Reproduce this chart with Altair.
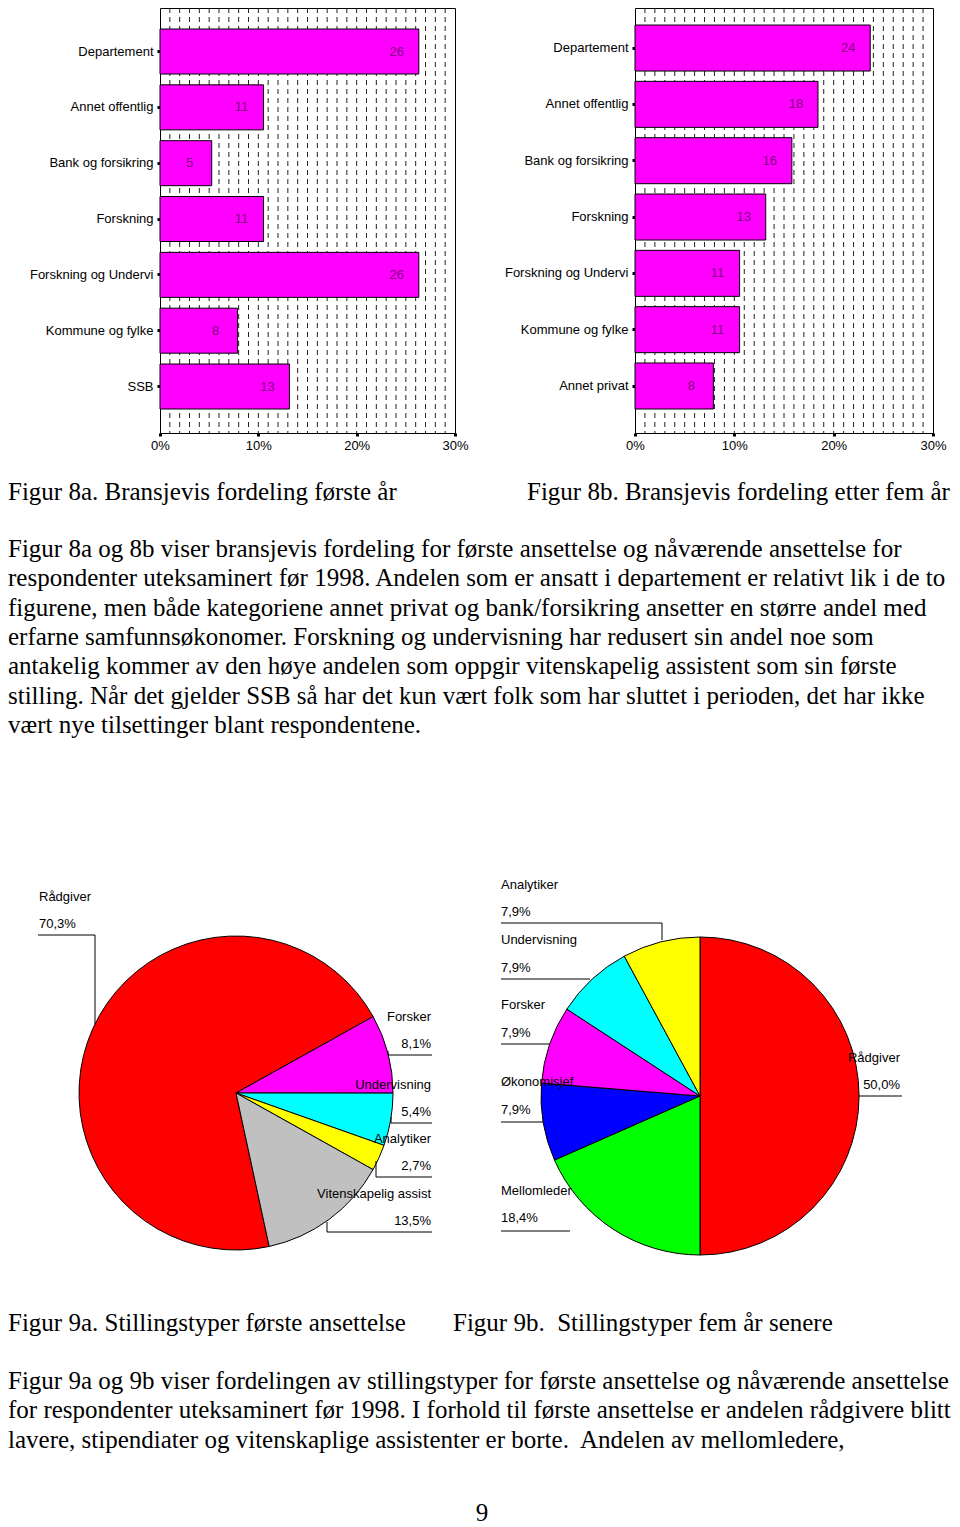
import math
import altair as alt
import pandas as pd

# ---------------- data ----------------
cats_8a = ["Departement", "Annet offentlig", "Bank og forsikring", "Forskning",
           "Forskning og Undervi", "Kommune og fylke", "SSB"]
vals_8a = [26.32, 10.53, 5.26, 10.53, 26.32, 7.89, 13.16]

cats_8b = ["Departement", "Annet offentlig", "Bank og forsikring", "Forskning",
           "Forskning og Undervi", "Kommune og fylke", "Annet privat"]
vals_8b = [23.68, 18.42, 15.79, 13.16, 10.53, 10.53, 7.89]

x_tick_values = [0, 10, 20, 30]
grid_values = list(range(1, 30))

cats_9a = ["Rådgiver", "Forsker", "Undervisning", "Analytiker", "Vitenskapelig assist"]
vals_9a = [70.3, 8.1, 5.4, 2.7, 13.5]

cats_9b = ["Rådgiver", "Mellomleder", "Økonomisjef", "Forsker", "Undervisning", "Analytiker"]
vals_9b = [50.0, 18.4, 7.9, 7.9, 7.9, 7.9]

caption_8a = "Figur 8a. Bransjevis fordeling første år"
caption_8b = "Figur 8b. Bransjevis fordeling etter fem år"
paragraph_1 = [
    "Figur 8a og 8b viser bransjevis fordeling for første ansettelse og nåværende ansettelse for",
    "respondenter uteksaminert før 1998. Andelen som er ansatt i departement er relativt lik i de to",
    "figurene, men både kategoriene annet privat og bank/forsikring ansetter en større andel med",
    "erfarne samfunnsøkonomer. Forskning og undervisning har redusert sin andel noe som",
    "antakelig kommer av den høye andelen som oppgir vitenskapelig assistent som sin første",
    "stilling. Når det gjelder SSB så har det kun vært folk som har sluttet i perioden, det har ikke",
    "vært nye tilsettinger blant respondentene.",
]
caption_9a = "Figur 9a. Stillingstyper første ansettelse"
caption_9b = "Figur 9b.\u00a0 Stillingstyper fem år senere"
paragraph_2 = [
    "Figur 9a og 9b viser fordelingen av stillingstyper for første ansettelse og nåværende ansettelse",
    "for respondenter uteksaminert før 1998. I forhold til første ansettelse er andelen rådgivere blitt",
    "lavere, stipendiater og vitenskaplige assistenter er borte.\u00a0 Andelen av mellomledere,",
]
page_number = "9"

# ---------------- styles ----------------
colors_9a = ["#FF0000", "#FF00FF", "#00FFFF", "#FFFF00", "#C0C0C0"]
colors_9b = ["#FF0000", "#00FF00", "#0000FF", "#FF00FF", "#00FFFF", "#FFFF00"]
BAR_FILL = "#FF00FF"
BAR_LABEL = "#800080"
SANS = "Liberation Sans"
SERIF = "Liberation Serif"
BODY_SIZE = 25.0

# ---------------- layout (page pixels) ----------------
M = 8            # page margin
W, H = 944, 1519

# bar panels: plot box (x0, x1, y0, y1) and band paddings
panel_8a = dict(x0=160, x1=455, y0=8, y1=433, pi=0.194, po=0.403, align=0.467)
panel_8b = dict(x0=635, x1=933, y0=8, y1=433, pi=0.183, po=0.364, align=0.415)

# pies: centre, radius, start angle (degrees clockwise from 12 o'clock)
pie_9a = dict(cx=236, cy=1093, r=157, start=167.8)
pie_9b = dict(cx=700, cy=1096, r=159, start=0.0)

# label placement: align, x, y(name), y(percent)
labels_9a = {
    "Rådgiver": ("left", 39, 897, 924),
    "Forsker": ("right", 431, 1017, 1044),
    "Undervisning": ("right", 431, 1085, 1112),
    "Analytiker": ("right", 431, 1139, 1166),
    "Vitenskapelig assist": ("right", 431, 1194, 1221),
}
labels_9b = {
    "Rådgiver": ("right", 900, 1058, 1085),
    "Mellomleder": ("left", 501, 1191, 1218),
    "Økonomisjef": ("left", 501, 1082, 1110),
    "Forsker": ("left", 501, 1005, 1033),
    "Undervisning": ("left", 501, 940, 968),
    "Analytiker": ("left", 501, 885, 912),
}
# leader lines (x1, y1, x2, y2)
leaders = [
    (38, 935, 95, 935), (95, 935, 95, 1024),
    (388, 1055, 432, 1055), (388, 1055, 388, 1051),
    (391, 1123, 432, 1123), (391, 1123, 391, 1117),
    (376, 1177, 432, 1177), (376, 1177, 376, 1161),
    (327, 1232, 432, 1232), (327, 1232, 327, 1222),
    (501, 923, 662, 923), (662, 923, 662, 940),
    (501, 979, 590, 979),
    (501, 1044, 550, 1044),
    (501, 1122, 543, 1122),
    (501, 1231, 570, 1231),
    (859, 1096, 902, 1096),
]

# text baselines
caption1_y = 500
para1_y0, line_step = 557, 29.3
caption2_y = 1331
para2_y0 = 1389
page_no_y = 1521


def bar_panel(cats, vals, p):
    df = pd.DataFrame({"cat": cats, "val": vals})
    xr = [p["x0"] - M, p["x1"] - M]
    yr = [p["y0"] - M, p["y1"] - M]
    xs = alt.Scale(domain=[0, 30], range=xr, nice=False, zero=True)
    ys = alt.Scale(type="band", domain=cats, range=yr, paddingInner=p["pi"],
                   paddingOuter=p["po"], align=p["align"])
    grid = alt.Chart(pd.DataFrame({"g": grid_values})).mark_rule(
        color="#222222", strokeWidth=1, strokeDash=[5, 4]
    ).encode(
        x=alt.X("g:Q", scale=xs,
                axis=alt.Axis(orient="top", offset=-yr[0], labels=False, ticks=False,
                              domain=True, title=None, grid=False)),
        y=alt.Y(datum=0, scale=alt.Scale(domain=[0, 1], range=yr),
                axis=alt.Axis(orient="right", offset=xr[1] - W, labels=False,
                              ticks=False, domain=True, title=None, grid=False)),
        y2=alt.Y2(datum=1),
    )
    bars = alt.Chart(df).mark_bar(fill=BAR_FILL, stroke="black", strokeWidth=1).encode(
        x=alt.X("val:Q", scale=xs,
                axis=alt.Axis(orient="bottom", offset=yr[1] - H, values=x_tick_values,
                              labelExpr="datum.value + '%'", tickSize=3, tickWidth=3,
                              labelPadding=3, labelFlush=False, title=None, grid=False)),
        y=alt.Y("cat:N", scale=ys,
                axis=alt.Axis(orient="left", offset=-xr[0], tickSize=3, tickWidth=3,
                              labelPadding=4, title=None, grid=False)),
    )
    text = alt.Chart(df).mark_text(
        align="center", baseline="middle", dx=-22, color=BAR_LABEL, font=SANS, fontSize=13
    ).encode(
        x=alt.X("val:Q", scale=xs, axis=None),
        y=alt.Y("cat:N", scale=ys, axis=None, bandPosition=0.5),
        text=alt.Text("val:Q", format=".0f"),
    )
    return [grid, bars, text]


def pie_panel(cats, vals, colors, p):
    df = pd.DataFrame({"cat": cats, "val": vals, "i": list(range(len(cats)))})
    a0 = math.radians(p["start"])
    return alt.Chart(df).mark_arc(radius=p["r"], stroke="black", strokeWidth=1).encode(
        theta=alt.Theta("val:Q", stack=True,
                        scale=alt.Scale(domain=[0, sum(vals)], range=[a0, a0 + 2 * math.pi])),
        color=alt.Color("cat:N", scale=alt.Scale(domain=cats, range=colors), legend=None),
        order=alt.Order("i:Q"),
        x=alt.value(p["cx"] - M),
        y=alt.value(p["cy"] - M),
    )


def pct(v):
    return f"{v:.1f}".replace(".", ",") + "%"


label_rows = []
for cats, vals, lay in [(cats_9a, vals_9a, labels_9a), (cats_9b, vals_9b, labels_9b)]:
    for c, v in zip(cats, vals):
        al, x, yn, yp = lay[c]
        label_rows.append({"t": c, "x": x - M, "y": yn - M, "al": al})
        label_rows.append({"t": pct(v), "x": x - M, "y": yp - M, "al": al})
label_df = pd.DataFrame(label_rows)


def label_layer(al):
    return alt.Chart(label_df[label_df["al"] == al]).mark_text(
        align=al, baseline="middle", font=SANS, fontSize=13, color="black"
    ).encode(
        x=alt.X("x:Q", scale=None), y=alt.Y("y:Q", scale=None), text="t:N"
    )


lead_df = pd.DataFrame([{"x": a - M, "y": b - M, "x2": c - M, "y2": d - M}
                        for a, b, c, d in leaders])
leader_layer = alt.Chart(lead_df).mark_rule(color="black", strokeWidth=1).encode(
    x=alt.X("x:Q", scale=None), y=alt.Y("y:Q", scale=None),
    x2="x2:Q", y2="y2:Q",
)

body_rows = [
    {"t": caption_8a, "x": 0, "y": caption1_y - M},
    {"t": caption_8b, "x": 527 - M, "y": caption1_y - M},
    {"t": caption_9a, "x": 0, "y": caption2_y - M},
    {"t": caption_9b, "x": 453 - M, "y": caption2_y - M},
]
for i, line in enumerate(paragraph_1):
    body_rows.append({"t": line, "x": 0, "y": para1_y0 + i * line_step - M})
for i, line in enumerate(paragraph_2):
    body_rows.append({"t": line, "x": 0, "y": para2_y0 + i * line_step - M})
body_df = pd.DataFrame(body_rows)

body_layer = alt.Chart(body_df).mark_text(
    align="left", baseline="alphabetic", font=SERIF, fontSize=BODY_SIZE, color="black"
).encode(x=alt.X("x:Q", scale=None), y=alt.Y("y:Q", scale=None), text="t:N")

page_layer = alt.Chart(pd.DataFrame({"t": [page_number], "x": [482 - M], "y": [page_no_y - M]})).mark_text(
    align="center", baseline="alphabetic", font=SERIF, fontSize=BODY_SIZE, color="black"
).encode(x=alt.X("x:Q", scale=None), y=alt.Y("y:Q", scale=None), text="t:N")

layers = (
    bar_panel(cats_8a, vals_8a, panel_8a)
    + bar_panel(cats_8b, vals_8b, panel_8b)
    + [pie_panel(cats_9a, vals_9a, colors_9a, pie_9a),
       pie_panel(cats_9b, vals_9b, colors_9b, pie_9b),
       leader_layer, label_layer("left"), label_layer("right"),
       body_layer, page_layer]
)

chart = (
    alt.layer(*layers)
    .resolve_scale(x="independent", y="independent", color="independent", theta="independent")
    .properties(width=W, height=H, padding=0,
                autosize=alt.AutoSizeParams(type="none"), background="white")
    .configure_view(stroke=None)
    .configure_axis(domainColor="black", tickColor="black", labelColor="black",
                    labelFont=SANS, labelFontSize=13, domainWidth=1, grid=False)
)

chart.save("out.html", embed_options={"renderer": "svg", "actions": False})
